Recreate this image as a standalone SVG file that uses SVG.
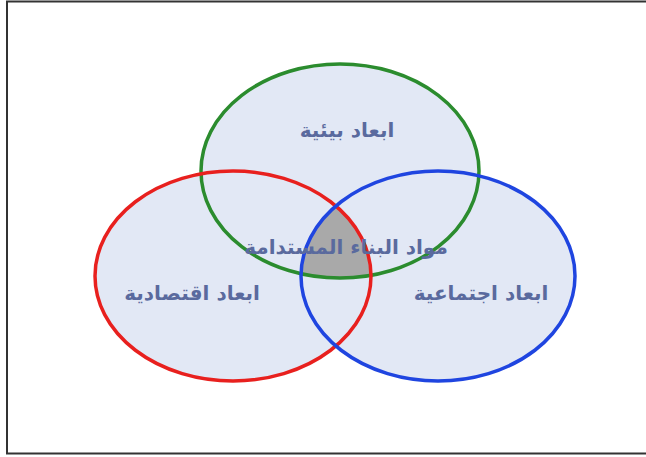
<svg xmlns="http://www.w3.org/2000/svg" width="646" height="457" viewBox="0 0 646 457">
<style>
.c{fill:#e2e8f5;stroke:none}
.s{fill:none;stroke-width:3.5}
.t{font-family:"DejaVu Sans",sans-serif;font-size:20px;font-weight:bold;fill:#5a6a9e;text-anchor:middle;direction:rtl}
</style>
<defs>
<clipPath id="cr"><ellipse cx="233" cy="276" rx="138" ry="105"/></clipPath>
<clipPath id="cb"><ellipse cx="438" cy="276" rx="137" ry="105"/></clipPath>
</defs>
<rect width="646" height="457" fill="#ffffff"/>
<path d="M7 454 V1.5 H646 M6 453.5 H646" fill="none" stroke="#333333" stroke-width="2"/>
<g id="fills">
<ellipse class="c" cx="340" cy="171" rx="139" ry="107"/>
<ellipse class="c" cx="233" cy="276" rx="138" ry="105"/>
<ellipse class="c" cx="438" cy="276" rx="137" ry="105"/>
<g clip-path="url(#cr)"><ellipse clip-path="url(#cb)" cx="340" cy="171" rx="139" ry="107" fill="#a9a9a9"/></g>
</g>
<g id="connectors"></g>
<g id="environment"><ellipse class="s" stroke="#2b8c2e" cx="340" cy="171" rx="139" ry="107"/><text class="t" x="347" y="137">ابعاد بيئية</text></g>
<g id="economic"><ellipse class="s" stroke="#e8201e" cx="233" cy="276" rx="138" ry="105"/><text class="t" x="192" y="300">ابعاد اقتصادية</text></g>
<g id="social"><ellipse class="s" stroke="#1f45e0" cx="438" cy="276" rx="137" ry="105"/><text class="t" x="481" y="300">ابعاد اجتماعية</text></g>
<g id="center"><text class="t" x="346" y="254">مواد البناء المستدامة</text></g>
</svg>
